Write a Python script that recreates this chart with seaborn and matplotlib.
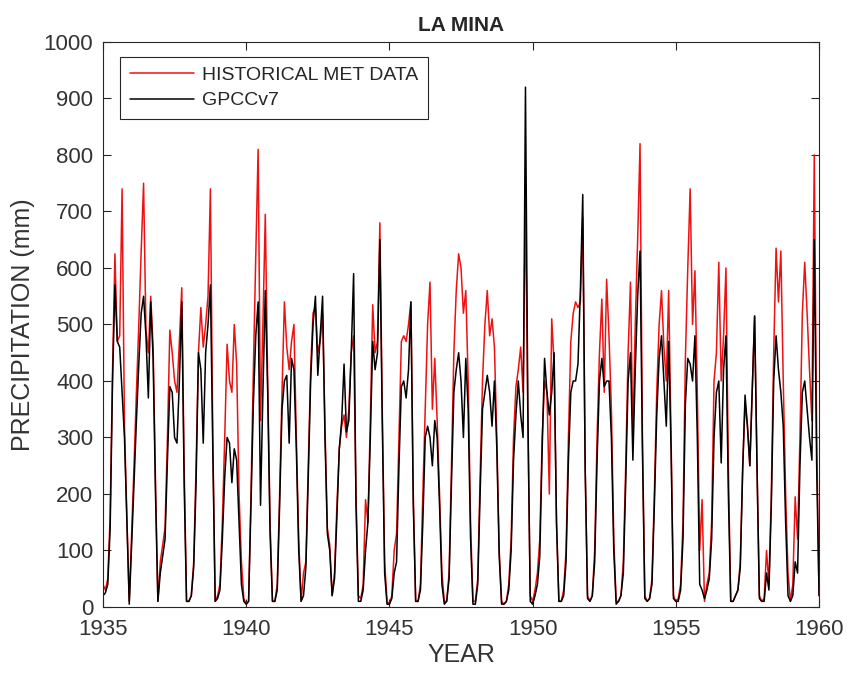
import numpy as np
import pandas as pd
import seaborn as sns
import matplotlib
matplotlib.use('Agg')
import matplotlib.pyplot as plt

# monthly precipitation (mm), one row per year, Jan..Dec
hist_mm = [
    40, 30, 50, 160, 420, 625, 470, 480, 740, 320, 160, 10,      # 1935
    130, 250, 380, 500, 630, 750, 490, 450, 550, 460, 220, 10,   # 1936
    80, 110, 140, 300, 490, 450, 400, 380, 470, 565, 250, 10,    # 1937
    10, 20, 80, 250, 450, 530, 460, 500, 550, 740, 300, 10,      # 1938
    20, 40, 150, 300, 465, 400, 380, 500, 430, 200, 80, 15,      # 1939
    5, 10, 200, 420, 620, 810, 330, 500, 695, 400, 150, 10,      # 1940
    10, 40, 200, 380, 540, 460, 420, 470, 500, 300, 120, 10,     # 1941
    60, 80, 250, 420, 520, 530, 450, 470, 520, 320, 140, 110,    # 1942
    20, 60, 180, 280, 320, 340, 300, 350, 450, 480, 200, 20,     # 1943
    15, 40, 190, 150, 330, 535, 450, 470, 680, 350, 80, 10,      # 1944
    5, 20, 100, 130, 300, 470, 480, 470, 500, 540, 200, 10,      # 1945
    10, 40, 200, 350, 500, 575, 350, 440, 330, 200, 60, 10,      # 1946
    10, 60, 250, 450, 560, 625, 600, 520, 560, 400, 150, 10,     # 1947
    10, 50, 230, 400, 500, 560, 480, 510, 460, 300, 100, 10,     # 1948
    5, 10, 40, 120, 300, 390, 420, 460, 380, 720, 330, 20,       # 1949
    10, 30, 60, 120, 300, 400, 380, 200, 510, 430, 150, 10,      # 1950
    10, 30, 100, 300, 470, 520, 540, 530, 540, 690, 250, 20,     # 1951
    10, 20, 100, 300, 450, 545, 380, 580, 480, 350, 120, 10,     # 1952
    10, 20, 80, 250, 450, 575, 300, 500, 650, 820, 300, 20,      # 1953
    10, 15, 50, 200, 380, 500, 560, 460, 400, 560, 300, 20,      # 1954
    10, 15, 40, 150, 440, 600, 740, 500, 595, 380, 100, 190,     # 1955
    10, 40, 60, 150, 400, 450, 610, 400, 480, 600, 250, 10,      # 1956
    10, 20, 30, 80, 250, 360, 320, 250, 380, 515, 250, 20,       # 1957
    10, 15, 100, 40, 200, 450, 635, 540, 630, 400, 200, 60,      # 1958
    10, 40, 195, 120, 300, 520, 610, 520, 420, 330, 800, 300,    # 1959
    20,                                                          # 1960
]

gpcc_mm = [
    20, 25, 40, 140, 400, 570, 470, 460, 380, 300, 150, 5,       # 1935
    110, 220, 330, 430, 520, 550, 480, 370, 540, 440, 200, 10,   # 1936
    60, 90, 120, 260, 390, 380, 300, 290, 400, 540, 220, 10,     # 1937
    10, 20, 70, 220, 450, 420, 290, 450, 500, 570, 280, 10,      # 1938
    15, 30, 120, 230, 300, 290, 220, 280, 260, 150, 40, 10,      # 1939
    5, 10, 180, 360, 480, 540, 180, 380, 560, 380, 130, 10,      # 1940
    10, 30, 180, 350, 400, 410, 290, 440, 420, 280, 100, 10,     # 1941
    20, 70, 230, 400, 500, 550, 410, 480, 550, 300, 130, 100,    # 1942
    20, 50, 160, 280, 330, 430, 310, 330, 450, 590, 180, 10,     # 1943
    10, 30, 100, 150, 300, 470, 420, 450, 650, 330, 60, 5,       # 1944
    5, 15, 60, 80, 250, 390, 400, 370, 420, 540, 180, 10,        # 1945
    10, 30, 150, 300, 320, 300, 250, 330, 300, 180, 40, 5,       # 1946
    10, 50, 220, 380, 420, 450, 400, 300, 440, 350, 120, 5,      # 1947
    5, 40, 200, 350, 380, 410, 380, 320, 400, 280, 90, 5,        # 1948
    5, 10, 30, 100, 260, 340, 400, 340, 300, 920, 350, 10,       # 1949
    5, 20, 40, 90, 280, 440, 380, 340, 380, 450, 150, 10,        # 1950
    10, 20, 80, 260, 380, 400, 400, 430, 560, 730, 250, 15,      # 1951
    10, 20, 80, 260, 400, 440, 390, 400, 400, 300, 100, 5,       # 1952
    10, 20, 60, 220, 400, 450, 260, 420, 550, 630, 280, 15,      # 1953
    10, 15, 40, 180, 340, 440, 480, 400, 320, 470, 280, 15,      # 1954
    10, 10, 30, 120, 360, 440, 430, 400, 480, 300, 40, 30,       # 1955
    15, 30, 50, 120, 300, 380, 400, 255, 420, 480, 200, 10,      # 1956
    10, 20, 30, 70, 240, 375, 320, 250, 380, 515, 250, 15,       # 1957
    10, 10, 60, 30, 180, 400, 480, 420, 380, 320, 150, 20,       # 1958
    10, 20, 80, 60, 250, 380, 400, 350, 300, 260, 650, 250,      # 1959
    20,                                                          # 1960
]

start_year = 1935
year_ticks = [1935, 1940, 1945, 1950, 1955, 1960]
precip_ticks = list(range(0, 1001, 100))

# time axis: one point per month
t = start_year + np.arange(len(hist_mm)) / 12
df = pd.DataFrame({'time': t, 'hist': hist_mm, 'gpcc': gpcc_mm})

sns.set_style('ticks')
plt.rcParams['font.family'] = ['Liberation Sans', 'DejaVu Sans']

fig = plt.figure(figsize=(8.47, 6.77), dpi=100)
ax = fig.add_axes([0.1216, 0.1034, 0.8454, 0.8346])

sns.lineplot(data=df, x='time', y='hist', color='#ee1111', linewidth=1.1,
             label='HISTORICAL MET DATA', ax=ax)
sns.lineplot(data=df, x='time', y='gpcc', color='black', linewidth=1.1,
             label='GPCCv7', ax=ax)

ax.set_xlim(1935, 1960)
ax.set_ylim(0, 1000)
ax.set_xticks(year_ticks)
ax.set_yticks(precip_ticks)

dark = '#262626'
for s in ax.spines.values():
    s.set_visible(True)
    s.set_color(dark)
    s.set_linewidth(0.8)
ax.tick_params(direction='in', length=6, width=0.8, color=dark,
               labelsize=16, labelcolor='#333333',
               top=True, right=True)
ax.tick_params(axis='y', pad=7)
ax.tick_params(axis='x', pad=9)

ax.set_title('LA MINA', fontsize=15, fontweight='bold', pad=8)
ax.set_xlabel('YEAR', fontsize=18, color='#333333', labelpad=2)
ax.set_ylabel('PRECIPITATION (mm)', fontsize=18, color='#333333', labelpad=6)

leg = ax.legend(loc='upper left', bbox_to_anchor=(0.024, 0.974),
                borderaxespad=0, fontsize=14, handlelength=3.3,
                labelspacing=0.4, borderpad=0.5, handletextpad=0.4,
                fancybox=False, framealpha=1, edgecolor=dark)
leg.get_frame().set_linewidth(0.8)

fig.savefig('out.png', dpi=100)
